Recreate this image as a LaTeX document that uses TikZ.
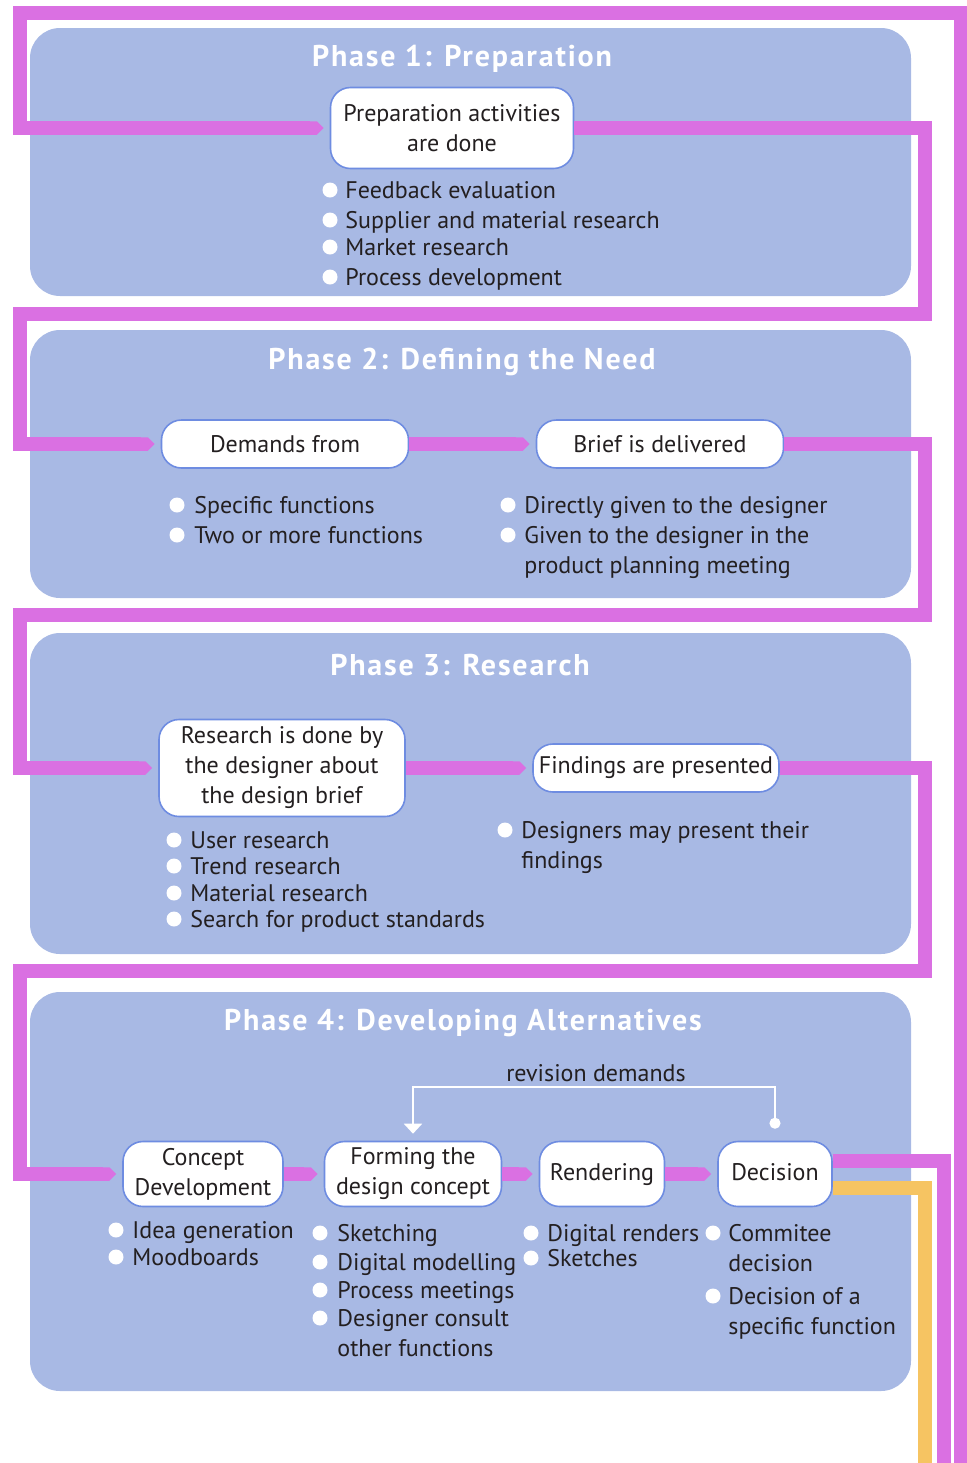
\documentclass[tikz,border=0pt]{standalone}
\usepackage{fontspec}
\setmainfont{PT Sans}
\newfontfamily\titlefont{PT Sans}[LetterSpace=6]
\usetikzlibrary{arrows.meta,calc}

\definecolor{phasebg}{RGB}{168,185,228}
\definecolor{flowpink}{RGB}{218,112,226}
\definecolor{floworange}{RGB}{246,196,98}
\definecolor{nodeedge}{RGB}{110,140,225}
\definecolor{ink}{RGB}{35,31,32}

\newcommand\bodysize{\fontsize{12}{15}\selectfont}
% bullet item: name, dot x, text x, line centre y, text (lines split by \\)
\newcommand\bitem[5]{%
  \node[dot] (#1-dot) at (#2,#4) {};
  \node[item] (#1) at (#3,#4+8) {\begin{tabular}[t]{@{}l@{}}#5\end{tabular}};}

\begin{document}
\begin{tikzpicture}[x=0.5pt,y=-0.5pt,
  phase/.style={fill=phasebg, rounded corners=15pt},
  stepnode/.style={draw=nodeedge, line width=0.8pt, fill=white, rounded corners=10pt,
    align=center, inner sep=0pt, font=\bodysize, text=ink},
  title/.style={font=\titlefont\bfseries\fontsize{15}{17}\selectfont, text=white},
  flow/.style={draw=flowpink, line width=6.75pt},
  flowin/.style={flow, -{Triangle Cap}, shorten >=3pt},
  item/.style={anchor=base west, font=\bodysize, text=ink, inner sep=0pt},
  dot/.style={circle, fill=white, minimum size=7.5pt, inner sep=0pt},
  rev/.style={draw=white, line width=1pt, {Circle[length=5.5pt]}-{Triangle[length=5pt,width=9pt]}}]
\useasboundingbox (0,0) rectangle (966,1463);

% phase panels
\path[phase] (30,28) rectangle (911,296);
\path[phase] (30,330) rectangle (911,598);
\path[phase] (30,633) rectangle (911,954);
\path[phase] (30,992) rectangle (911,1391);

\node[title] (t1) at (462,59) {Phase 1: Preparation};
\node[title] (t2) at (462,362) {Phase 2: Defining the Need};
\node[title] (t3) at (460,665) {Phase 3: Research};
\node[title] (t4) at (463,1023) {Phase 4: Developing Alternatives};

% process steps
\node[stepnode, minimum width=121.5pt, minimum height=40.5pt] (prep) at (452,128) {Preparation activities\\are done};
\node[stepnode, minimum width=123.5pt, minimum height=24pt] (dem) at (285,444) {Demands from};
\node[stepnode, minimum width=123.5pt, minimum height=24pt] (brief) at (660,444) {Brief is delivered};
\node[stepnode, minimum width=123pt, minimum height=48.5pt] (res) at (282,768) {Research is done by\\the designer about\\the design brief};
\node[stepnode, minimum width=123pt, minimum height=24pt] (find) at (656,768) {Findings are presented};
\node[stepnode, minimum width=80pt, minimum height=32.5pt] (conc) at (203,1174) {Concept\\Development};
\node[stepnode, minimum width=88.5pt, minimum height=32.5pt] (form) at (413,1174) {Forming the\\design concept};
\node[stepnode, minimum width=62.5pt, minimum height=32.5pt] (rend) at (602,1174) {\strut Rendering};
\node[stepnode, minimum width=57pt, minimum height=32.5pt] (dec) at (775,1174) {\strut Decision};

% bullet lists
\bitem{p1a}{330}{345}{190}{Feedback evaluation}
\bitem{p1b}{330}{345}{220}{Supplier and material research}
\bitem{p1c}{330}{345}{247}{Market research}
\bitem{p1d}{330}{345}{277}{Process development}

\bitem{p2a}{177}{194}{505}{Specific functions}
\bitem{p2b}{177}{194}{535}{Two or more functions}
\bitem{p2c}{508}{524}{505}{Directly given to the designer}
\bitem{p2d}{508}{524}{535}{Given to the designer in the\\product planning meeting}

\bitem{p3a}{174}{190}{840}{User research}
\bitem{p3b}{174}{190}{866}{Trend research}
\bitem{p3c}{174}{190}{893}{Material research}
\bitem{p3d}{174}{190}{919}{Search for product standards}
\bitem{p3e}{505}{521}{830}{Designers may present their\\findings}

\bitem{p4a}{116}{132}{1230}{Idea generation}
\bitem{p4b}{116}{132}{1257}{Moodboards}
\bitem{p4c}{320}{337}{1233}{Sketching}
\bitem{p4d}{320}{337}{1262}{Digital modelling}
\bitem{p4e}{320}{337}{1290}{Process meetings}
\bitem{p4f}{320}{337}{1318}{Designer consult\\other functions}
\bitem{p4g}{531}{547}{1233}{Digital renders}
\bitem{p4h}{531}{547}{1258}{Sketches}
\bitem{p4i}{713}{728}{1233}{Commitee\\decision}
\bitem{p4j}{713}{728}{1296}{Decision of a\\specific function}

% flow line
\coordinate (loopin) at (961,1475);
\coordinate (outpink) at (944,1475);
\coordinate (outorange) at (925,1475);
\draw[flowin] (loopin) -- (961,13) -- (20,13) |- (prep.west);
\draw[flowin] (prep.east) -| (925,314) -- (20,314) |- (dem.west);
\draw[flowin] (dem.east) -- (brief.west);
\draw[flowin] (brief.east) -| (925,615) -- (20,615) |- (res.west);
\draw[flowin] (res.east) -- (find.west);
\draw[flowin] (find.east) -| (925,971) -- (20,971) |- (conc.west);
\draw[flowin] (conc.east) -- (form.west);
\draw[flowin] (form.east) -- (rend.west);
\draw[flowin] (rend.east) -- (dec.west);
\draw[flow] ([yshift=6.5pt]dec.east) -| (outpink);
\draw[flow, draw=floworange] ([yshift=-7pt]dec.east) -| (outorange);

% revision loop
\coordinate (rv) at (775,1087);
\node[font=\bodysize, text=ink, inner sep=0pt] (rvlabel) at (596,1073) {revision demands};
\draw[rev] ([yshift=6pt]dec.north) -- (dec.north |- rv) -| ([yshift=3.5pt]form.north);
\end{tikzpicture}
\end{document}
